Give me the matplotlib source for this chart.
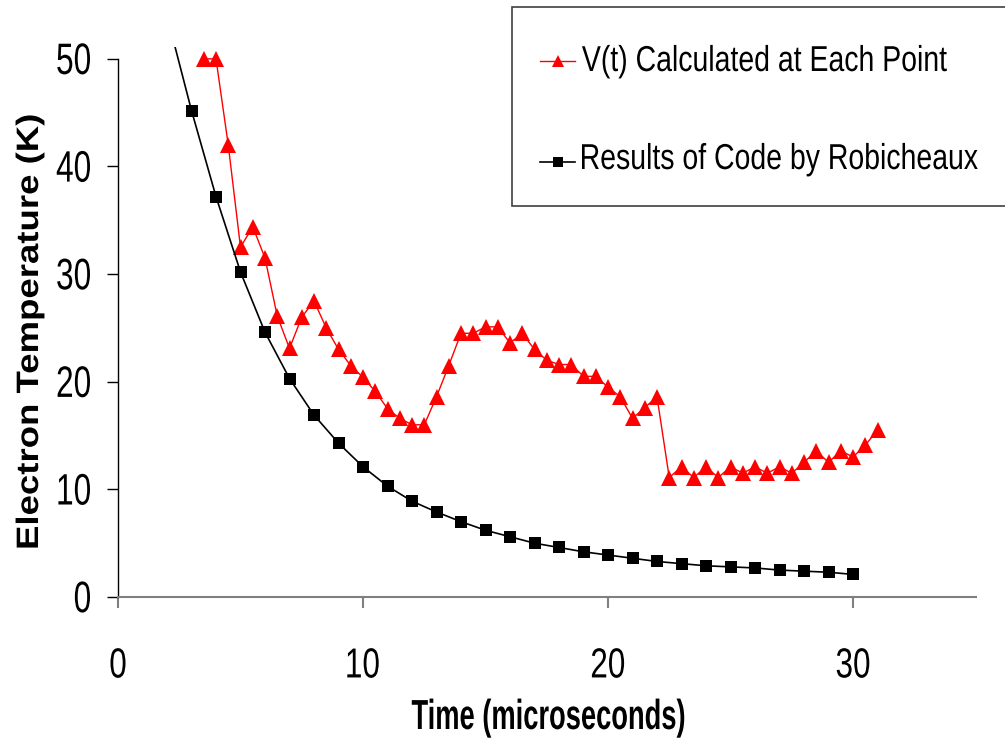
import matplotlib
matplotlib.use("Agg")
import matplotlib.pyplot as plt
from matplotlib.font_manager import FontProperties
from matplotlib.textpath import TextPath
from matplotlib.patches import PathPatch, Rectangle
from matplotlib.lines import Line2D
from matplotlib.transforms import Affine2D
import numpy as np

# ── Data ─────────────────────────────────────────────────────────────────────

t_calc = np.arange(3.5, 31.01, 0.5)
temp_calc = [50.0, 50.0, 42.0, 32.5, 34.4, 31.5, 26.1, 23.1, 26.0, 27.5,
             25.0, 23.0, 21.5, 20.4, 19.1, 17.5, 16.6, 16.0, 16.0, 18.6,
             21.5, 24.5, 24.5, 25.1, 25.1, 23.6, 24.5, 23.0, 22.0, 21.6,
             21.6, 20.5, 20.5, 19.5, 18.6, 16.6, 17.6, 18.6, 11.1, 12.1,
             11.1, 12.1, 11.1, 12.1, 11.5, 12.1, 11.5, 12.1, 11.5, 12.5,
             13.6, 12.5, 13.6, 13.0, 14.1, 15.5]

t_code = np.arange(2, 31)
temp_code = [54.0, 45.2, 37.2, 30.2, 24.6, 20.3, 16.9, 14.3, 12.1, 10.3,
             8.9, 7.9, 7.0, 6.2, 5.6, 5.0, 4.6, 4.2, 3.9, 3.6,
             3.3, 3.1, 2.9, 2.8, 2.7, 2.5, 2.4, 2.3, 2.1]

labels = ["V(t) Calculated at Each Point", "Results of Code by Robicheaux"]
x_ticks = [0, 10, 20, 30]
y_ticks = [0, 10, 20, 30, 40, 50]

W, H = 1005, 741


# ── Texte « étroit » (police condensée simulée par mise à l'échelle) ─────────

def squeezed(fig, x, y, s, em, sx=1.0, ha="center", va="baseline",
             bold=False, rot=0, color="black", zorder=6):
    """Texte en chemin, x/y en pixels depuis le coin haut-gauche."""
    fp = FontProperties(family="Liberation Sans",
                        weight="bold" if bold else "normal")
    p = TextPath((0, 0), s, size=em, prop=fp)
    e = p.get_extents()
    dx = {"left": -e.x0, "center": -(e.x0 + e.x1) / 2, "right": -e.x1}[ha]
    dy = {"baseline": 0, "center": -(e.y0 + e.y1) / 2,
          "top": -e.y1, "bottom": -e.y0}[va]
    tr = (Affine2D().translate(dx, dy).scale(sx, 1).rotate_deg(rot)
          .translate(x, H - y).scale(1 / W, 1 / H) + fig.transFigure)
    patch = PathPatch(p, transform=tr, facecolor=color, lw=0, zorder=zorder)
    fig.add_artist(patch)
    return patch


# ── Figure ───────────────────────────────────────────────────────────────────

fig = plt.figure(figsize=(W / 100, H / 100), dpi=100, facecolor="white")
ax = fig.add_axes([118 / W, 1 - 597 / H, (975.5 - 118) / W, (597 - 47) / H])

l_code, = ax.plot(t_code, temp_code, color="black", lw=1.2, marker="s", ms=9,
                  markeredgewidth=0, zorder=3)
l_calc, = ax.plot(t_calc, temp_calc, color="red", lw=1.0, marker="^", ms=12,
                  markeredgewidth=0, zorder=2)

ax.set_xlim(0, 35)
ax.set_ylim(0, 51.1)
ax.set_xticks(x_ticks)
ax.set_yticks(y_ticks)

for s in ("top", "right"):
    ax.spines[s].set_visible(False)
ax.spines["left"].set_bounds(0, 50)
ax.spines["left"].set_color("black")
ax.spines["left"].set_linewidth(1.0)
ax.spines["bottom"].set_color("#808080")
ax.spines["bottom"].set_linewidth(1.5)

ax.tick_params(axis="y", direction="out", length=8, width=1.0, color="black",
               labelleft=False)
ax.tick_params(axis="x", direction="out", length=8, width=1.5, color="#808080",
               labelbottom=False)

# tick labels, placés via les échelles de l'axe
fig.canvas.draw()
for v in x_ticks:
    px = ax.transData.transform((v, 0))[0]
    squeezed(fig, px, 663, str(v), em=42, sx=0.75, ha="center", va="center")
for v in y_ticks:
    py = H - ax.transData.transform((0, v))[1]
    squeezed(fig, 90, py, str(v), em=44, sx=0.72, ha="right", va="center")

# titres d'axes
squeezed(fig, 548, 729, "Time (microseconds)", em=42, sx=0.65, bold=True)
squeezed(fig, 30, 331.5, "Electron Temperature (K)", em=31, sx=1.18,
         bold=True, rot=90, va="center")

# ── Légende (cadre coupé au bord droit) ──────────────────────────────────────

fig.add_artist(Rectangle((512 / W, 1 - 206 / H), (1010 - 512) / W,
                         (206 - 7) / H, transform=fig.transFigure,
                         facecolor="white", edgecolor="#404040", lw=1.2,
                         zorder=4))
for line, text, yk, yt in ((l_calc, labels[0], 61, 71),
                           (l_code, labels[1], 162, 169)):
    fig.add_artist(Line2D([540 / W, 575 / W], [1 - yk / H] * 2,
                          transform=fig.transFigure, color=line.get_color(),
                          lw=line.get_linewidth(), zorder=5))
    fig.add_artist(Line2D([557.5 / W], [1 - yk / H], transform=fig.transFigure,
                          ls="none", marker=line.get_marker(),
                          ms=line.get_markersize() * 0.75,
                          color=line.get_color(), markeredgewidth=0, zorder=5))
    squeezed(fig, 582, yt, text, em=36, sx=0.79, ha="left")

fig.savefig("out.png", dpi=100)
